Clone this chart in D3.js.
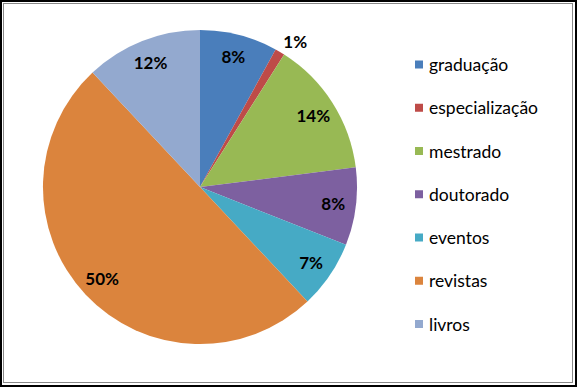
<!DOCTYPE html>
<html><head><meta charset="utf-8">
<script src="https://cdn.jsdelivr.net/npm/d3@7"></script>
<style>body{margin:0;background:#fff}svg{display:block}</style>
</head><body>
<svg id="c" width="577" height="387"></svg>
<script>
const categories = ["graduação","especialização","mestrado","doutorado","eventos","revistas","livros"];
const values = [8,1,14,8,7,50,12];
const labels = ["8%","1%","14%","8%","7%","50%","12%"];
const colors = ["#4A7EBB","#BE4B48","#98B954","#7D60A0","#46AAC5","#DB843D","#93A9CF"];

const svg = d3.select("#c");
svg.append("rect").attr("x",1).attr("y",1).attr("width",575).attr("height",385)
  .attr("fill","#fff").attr("stroke","#000").attr("stroke-width",2);
svg.append("rect").attr("x",3.5).attr("y",3.5).attr("width",569).attr("height",379)
  .attr("fill","none").attr("stroke","#888").attr("stroke-width",1);

const cx = 200, cy = 187, R = 157;
const pie = d3.pie().value(d=>d).sort(null);
const arcs = pie(values);
const arc = d3.arc().innerRadius(0).outerRadius(R);
const g = svg.append("g").attr("transform",`translate(${cx},${cy})`);
g.selectAll("path").data(arcs).join("path")
  .attr("d",arc).attr("fill",(d,i)=>colors[i]).attr("stroke","none");

const labelArc = d3.arc().innerRadius(R*0.855).outerRadius(R*0.855);
const outArc = d3.arc().innerRadius(R*1.08).outerRadius(R*1.08);
const small = d => (d.endAngle-d.startAngle) < 0.1;
g.selectAll("text.lbl").data(arcs).join("text").attr("class","lbl")
  .attr("transform",d=>{
    const p = small(d) ? outArc.centroid(d) : labelArc.centroid(d);
    return `translate(${small(d) ? p[0]-3 : p[0]},${p[1]})`;
  })
  .attr("text-anchor",d=>small(d) ? "start" : "middle").attr("dominant-baseline","central")
  .attr("font-family","Lato, 'Open Sans', sans-serif").attr("font-weight","bold")
  .attr("font-size","17px").attr("fill","#000")
  .text((d,i)=>labels[i]);

const leg = svg.append("g");
const ly = d3.scalePoint().domain(categories).range([64.5,324]);
const items = leg.selectAll("g").data(categories).join("g")
  .attr("transform",d=>`translate(415,${ly(d)})`);
items.append("rect").attr("x",0).attr("y",-4).attr("width",8).attr("height",8)
  .attr("fill",(d,i)=>colors[i]);
items.append("text").attr("x",14).attr("y",0).attr("dominant-baseline","central")
  .attr("font-family","Lato, 'Open Sans', sans-serif").attr("font-size","17.5px").attr("fill","#000")
  .text(d=>d);
</script>
</body></html>
